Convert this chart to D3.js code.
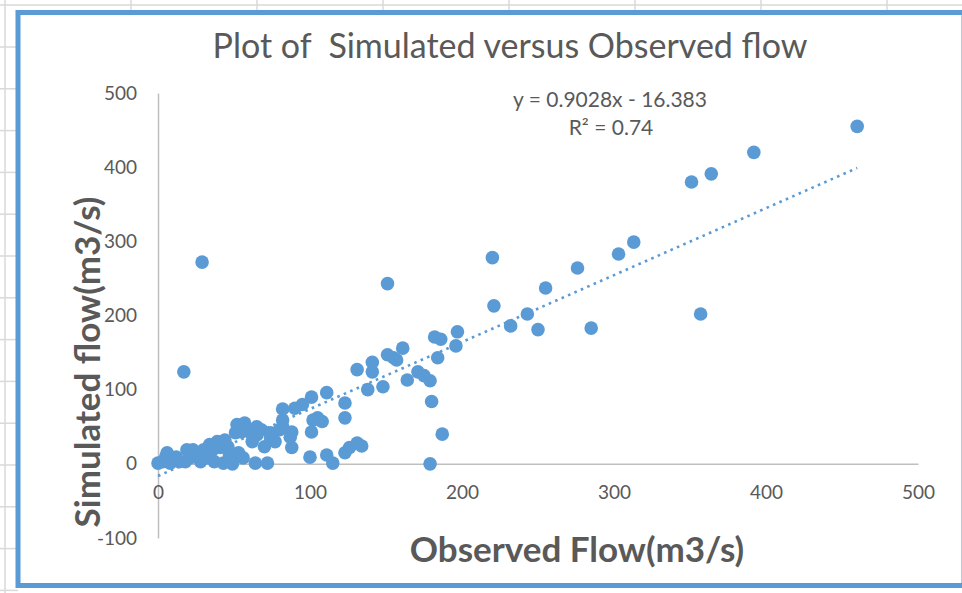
<!DOCTYPE html>
<html><head><meta charset="utf-8">
<script src="https://cdn.jsdelivr.net/npm/d3@7"></script>
<style>
html,body{margin:0;padding:0;background:#fff;overflow:hidden;}
svg{display:block;}
</style></head>
<body>
<svg id="chart" width="962" height="593"></svg>
<script>
// ---- data ----
const observed = [460,392,364,351,313,303,276,255,357,285,243,250,232,221,220,151,29,17,
  197,196,182,186,184,179,180,187,179,171,175,164,161,151,155,157,141,141,131,138,148,
  123,123,111,101,95,90,82,82,105,108,102,101,88,88,100,111,115,123,126,131,134,
  64,72,77,82,74,65,65,68,62,70,52,57,55,61,51,39,44,34,53,56,19,23,6,0,43,49,28,32,10,14,
  3,5,8,12,18,21,25,30,36,41,46,47,37,80,74,87];
const simulated = [455,420,391,380,299,283,264,237,202,183,202,181,186,213,278,243,272,124,
  178,159,171,168,143,112,84,40,0,124,119,113,156,147,143,140,137,124,127,100,104,
  82,62,96,90,80,75,74,59,62,57,59,43,43,22,9,12,1,15,22,28,24,
  1,1,30,50,36,50,39,46,30,23,53,55,43,42,42,30,32,26,15,8,19,19,15,1,1,0,3,8,5,3,
  3,9,1,9,3,8,12,19,19,22,23,12,3,46,42,36];
const xTicks = [0,100,200,300,400,500];
const yTicks = [-100,0,100,200,300,400,500];
const trendSlope = 0.9028, trendIntercept = -16.383;
const titleText = "Plot of  Simulated versus Observed flow";
const eqText = "y = 0.9028x - 16.383";
const r2Text = "R² = 0.74";
const xTitle = "Observed Flow(m3/s)";
const yTitle = "Simulated flow(m3/s)";

const svg = d3.select("#chart");
const W = 962, H = 593;
const grid = "#d9d9d9";
const blue = "#5b9bd5";
const txt = "#595959";
const font = "Lato, 'Open Sans', sans-serif";

// spreadsheet background grid
const bg = svg.append("g");
bg.append("line").attr("x1",0).attr("x2",W).attr("y1",5).attr("y2",5).attr("stroke",grid).attr("stroke-width",1.5);
bg.append("line").attr("x1",5).attr("x2",5).attr("y1",0).attr("y2",H).attr("stroke",grid).attr("stroke-width",1.5);
d3.range(131, W, 126).forEach(x => bg.append("line").attr("x1",x).attr("x2",x).attr("y1",0).attr("y2",12).attr("stroke",grid).attr("stroke-width",1.5));
d3.range(47, H, 41.8).forEach(y => bg.append("line").attr("x1",0).attr("x2",18).attr("y1",y).attr("y2",y).attr("stroke",grid).attr("stroke-width",1.5));

// chart frame
svg.append("rect").attr("x",18).attr("y",12.5).attr("width",946).attr("height",573)
  .attr("fill","#fff").attr("stroke",blue).attr("stroke-width",5);

// scales
const x = d3.scaleLinear().domain([0,500]).range([158,918]);
const y = d3.scaleLinear().domain([-100,500]).range([538,93]);
const fmt = d => String(d);

// y axis
const yAxis = svg.append("g").attr("transform",`translate(${x(0)},0)`)
  .call(d3.axisLeft(y).tickValues(yTicks).tickFormat(fmt).tickSize(0).tickPadding(21).tickSizeOuter(0));
yAxis.select(".domain").attr("stroke","#bfbfbf").attr("stroke-width",1.5);
yAxis.selectAll("text").attr("fill",txt).style("font-family",font).style("font-size","19px");

// x axis at y=0
const xAxis = svg.append("g").attr("transform",`translate(0,${y(0)})`)
  .call(d3.axisBottom(x).tickValues(xTicks).tickFormat(fmt).tickSize(0).tickPadding(22).tickSizeOuter(0));
xAxis.select(".domain").attr("stroke","#bfbfbf").attr("stroke-width",1.5);
xAxis.selectAll("text").attr("fill",txt).style("font-family",font).style("font-size","19px");

// points
const pts = observed.map((o,i)=>({o, s: simulated[i]}));
svg.append("g").selectAll("circle").data(pts).join("circle")
  .attr("cx",d=>x(d.o)).attr("cy",d=>y(d.s)).attr("r",6.8).attr("fill",blue);

// trendline
const xMax = d3.max(observed);
svg.append("line")
  .attr("x1",x(0)).attr("y1",y(trendIntercept))
  .attr("x2",x(xMax)).attr("y2",y(trendSlope*xMax+trendIntercept))
  .attr("stroke",blue).attr("stroke-width",2.6).attr("stroke-dasharray","2.6,4.4");

// title
svg.append("text").attr("x",510).attr("y",58).attr("text-anchor","middle")
  .attr("xml:space","preserve").style("white-space","pre")
  .attr("fill",txt).style("font-family",font).style("font-size","34px").text(titleText);

// equation
svg.append("text").attr("x",610).attr("y",107).attr("text-anchor","middle")
  .attr("fill",txt).style("font-family",font).style("font-size","21px").text(eqText);
svg.append("text").attr("x",611).attr("y",135).attr("text-anchor","middle")
  .attr("fill",txt).style("font-family",font).style("font-size","21px").text(r2Text);

// axis titles
svg.append("text").attr("x",577).attr("y",562).attr("text-anchor","middle")
  .attr("fill",txt).style("font-family",font).style("font-size","35px").style("font-weight","bold").text(xTitle);
svg.append("text").attr("transform","translate(100,362) rotate(-90)").attr("text-anchor","middle")
  .attr("fill",txt).style("font-family",font).style("font-size","35px").style("font-weight","bold").text(yTitle);
</script>
</body></html>
